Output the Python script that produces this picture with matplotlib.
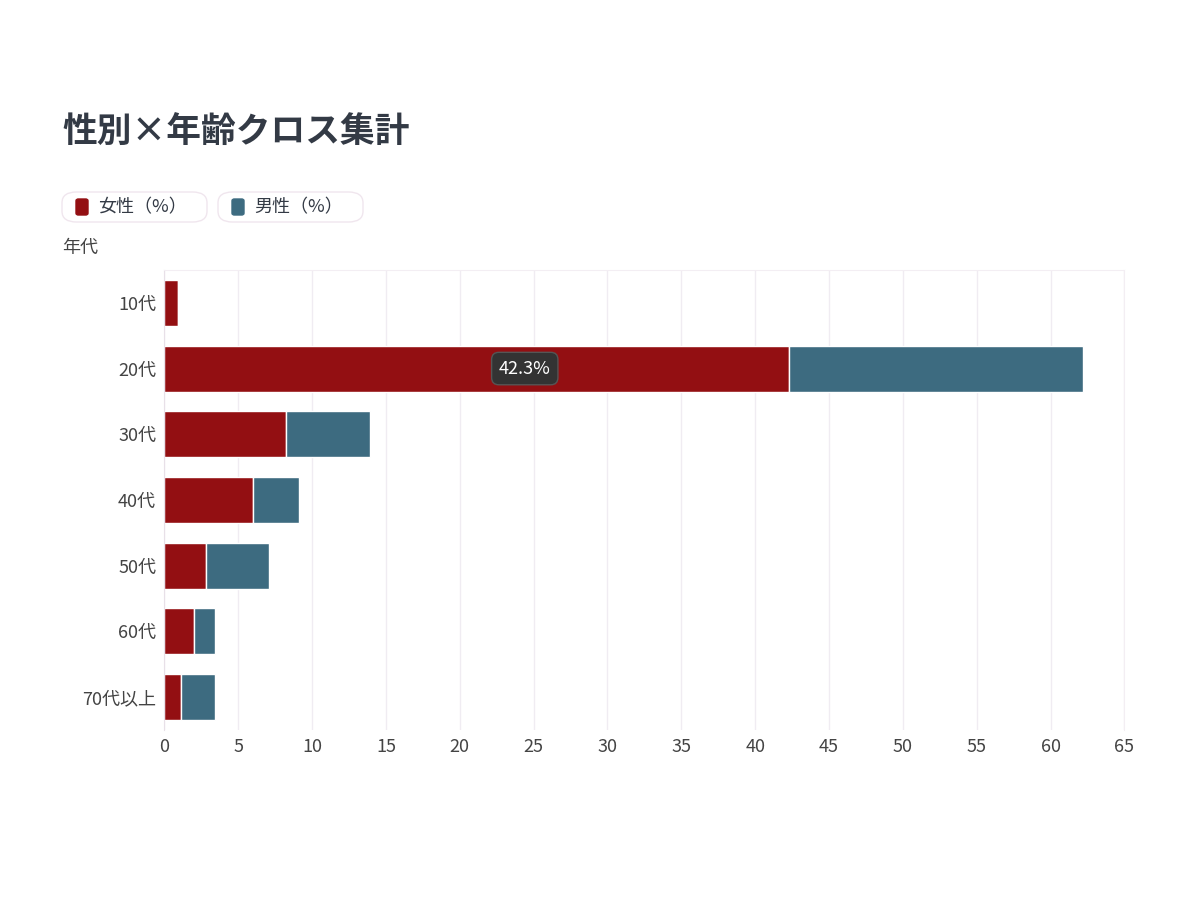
import matplotlib
matplotlib.use("Agg")
import matplotlib.pyplot as plt
from matplotlib.patches import FancyBboxPatch

plt.rcParams['font.family'] = ['Noto Sans CJK JP', 'DejaVu Sans']

categories = ["10代", "20代", "30代", "40代", "50代", "60代", "70代以上"]
female = [0.9, 42.3, 8.2, 6.0, 2.8, 2.0, 1.1]
male = [0.0, 19.9, 5.7, 3.1, 4.3, 1.4, 2.3]
ticks = list(range(0, 70, 5))

red = "#930f12"
blue = "#3d6b80"
text_c = "#333a45"

fig = plt.figure(figsize=(12, 9), dpi=100)
ax = fig.add_axes([0.137, 0.189, 0.8, 0.511])
y = list(range(len(categories)))
ax.barh(y, female, height=0.7, color=red, edgecolor="white", linewidth=1)
ax.barh(y, male, left=female, height=0.7, color=blue, edgecolor="white", linewidth=1)
ax.set_ylim(len(categories) - 0.5, -0.5)
ax.set_xlim(0, 65)
ax.set_xticks(ticks)
ax.set_yticks(y)
ax.set_yticklabels(categories)
ax.tick_params(axis='both', length=0, labelsize=13, colors="#444444", pad=6)
ax.grid(axis='x', color="#f0ecf2", linewidth=1)
ax.set_axisbelow(True)
for s in ["top", "right"]:
    ax.spines[s].set_color("#f3eef3")
ax.spines["bottom"].set_visible(False)
ax.spines["left"].set_color("#e8e0e8")

# tooltip
ax.text(24.4, 1, f"{female[1]}%", color="white", fontsize=13, ha="center", va="center",
        bbox=dict(boxstyle="round,pad=0.4", fc="#333333", ec="#555555"))

fig.text(62/1200, 1-132/900, "性別×年齢クロス集計", fontsize=25, fontweight="bold",
         color=text_c, va="center")
fig.text(62/1200, 1-248/900, "年代", fontsize=13, color="#444444", va="center")

for x0, w, lab, c in [(62, 145, "女性（%）", red), (218, 145, "男性（%）", blue)]:
    fig.patches.append(FancyBboxPatch((x0/1200, 1-222/900), w/1200, 30/900,
                                      boxstyle="round,pad=0,rounding_size=0.012",
                                      transform=fig.transFigure, fc="white", ec="#f0e6ee"))
    fig.patches.append(FancyBboxPatch(((x0+14)/1200, 1-215/900), 12/1200, 16/900,
                                      boxstyle="round,pad=0,rounding_size=0.002",
                                      transform=fig.transFigure, fc=c, ec=c))
    fig.text((x0+36)/1200, 1-207/900, lab, fontsize=13, color=text_c, va="center")

fig.savefig("out.png", dpi=100, facecolor="white")
